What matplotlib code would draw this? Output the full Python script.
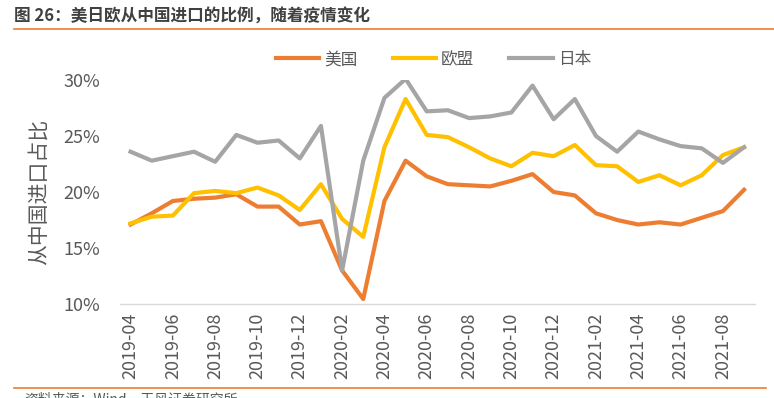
import matplotlib.pyplot as plt
import pandas as pd
from matplotlib.lines import Line2D

plt.rcParams["font.family"] = ["Liberation Sans Narrow", "Noto Sans CJK SC", "DejaVu Sans"]

months = pd.period_range("2019-04", periods=30, freq="M").strftime("%Y-%m").tolist()

us = [17.1, 18.1, 19.2, 19.4, 19.5, 19.8, 18.7, 18.7, 17.1, 17.4,
      13.0, 10.45, 19.2, 22.8, 21.4, 20.7, 20.6, 20.5, 21.0, 21.6,
      20.0, 19.7, 18.1, 17.5, 17.1, 17.3, 17.1, 17.7, 18.3, 20.2]
eu = [17.2, 17.8, 17.9, 19.9, 20.1, 19.9, 20.4, 19.7, 18.4, 20.7,
      17.6, 16.0, 24.0, 28.3, 25.1, 24.9, 24.0, 23.0, 22.3, 23.5,
      23.2, 24.2, 22.4, 22.3, 20.9, 21.5, 20.6, 21.5, 23.3, 24.0]
jp = [23.6, 22.8, 23.2, 23.6, 22.7, 25.1, 24.4, 24.6, 23.0, 25.9,
      13.0, 22.8, 28.4, 30.1, 27.2, 27.3, 26.6, 26.75, 27.1, 29.5,
      26.5, 28.3, 25.0, 23.6, 25.4, 24.7, 24.1, 23.9, 22.6, 24.0]

series = [("美国", us, "#ED7D31"), ("欧盟", eu, "#FFC000"), ("日本", jp, "#A5A5A5")]
text_gray = "#595959"

fig = plt.figure(figsize=(7.74, 3.98), dpi=100)
ax = fig.add_axes([0.155, 0.236, 0.82, 0.563])

x = range(len(months))
for name, vals, color in series:
    ax.plot(x, vals, color=color, lw=3, label=name, solid_joinstyle="round")

ax.set_xlim(-0.5, len(months) - 0.5)
ax.set_ylim(10, 30)
ax.set_yticks([10, 15, 20, 25, 30])
ax.yaxis.set_major_formatter(plt.FuncFormatter(lambda v, p: f"{v:.0f}%"))
ax.set_xticks(list(x)[::2])
ax.set_xticklabels(months[::2], rotation=90)
ax.tick_params(axis="both", length=0, labelsize=13, labelcolor=text_gray)
ax.tick_params(axis="y", pad=14)
ax.tick_params(axis="x", pad=6)

for side in ["top", "right", "left"]:
    ax.spines[side].set_visible(False)
ax.spines["bottom"].set_color("#D9D9D9")
ax.spines["bottom"].set_linewidth(1)

ax.set_ylabel("从中国进口占比", fontsize=15, color=text_gray,
              family=["Noto Sans CJK SC"])
ax.yaxis.set_label_coords(-0.11, 0.5)

leg = fig.legend(loc="center", bbox_to_anchor=(0.56, 0.85), ncol=3, frameon=False,
                 handlelength=2.6, columnspacing=2.1, handletextpad=0.3,
                 prop={"family": ["Noto Sans CJK SC"], "size": 12})
for t in leg.get_texts():
    t.set_color(text_gray)

fig.text(14 / 774, 1 - 17 / 398, "图 26：美日欧从中国进口的比例，随着疫情变化",
         fontsize=12, fontweight="bold", color="#404040", va="center",
         family=["Noto Sans CJK SC", "DejaVu Sans"])
fig.add_artist(Line2D([14 / 774, 1.0], [1 - 29 / 398] * 2, color="#ED7D31", lw=1.2))
fig.add_artist(Line2D([14 / 774, 766 / 774], [1 - 388 / 398] * 2, color="#ED7D31", lw=1.2))
fig.text(24 / 774, 1 - 392 / 398, "资料来源：Wind，天风证券研究所", fontsize=10,
         color=text_gray, va="top", family=["Noto Sans CJK SC", "DejaVu Sans"])

fig.savefig("out.png", dpi=100)
